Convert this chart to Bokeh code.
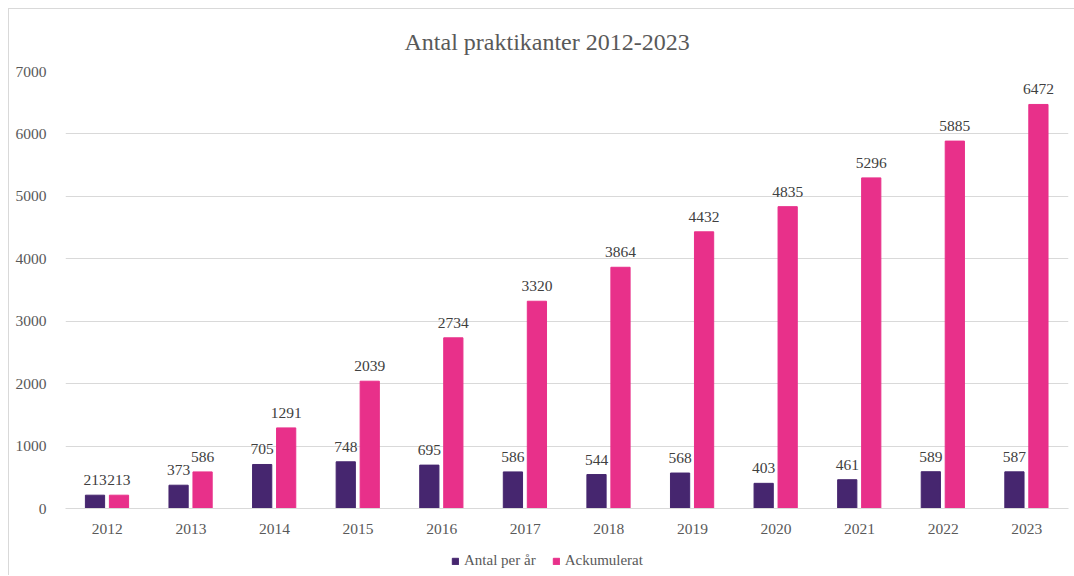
from bokeh.plotting import figure
from bokeh.layouts import column
from bokeh.models import (ColumnDataSource, FactorRange, Legend, LegendItem,
                          SingleIntervalTicker, Range1d)
from bokeh.transform import dodge
from bokeh.core.properties import value
from bokeh.embed import file_html
from bokeh.resources import INLINE

years = ["2012", "2013", "2014", "2015", "2016", "2017", "2018", "2019", "2020", "2021", "2022", "2023"]
per_year = [213, 373, 705, 748, 695, 586, 544, 568, 403, 461, 589, 587]
cumulative = [213, 586, 1291, 2039, 2734, 3320, 3864, 4432, 4835, 5296, 5885, 6472]
series_names = ["Antal per år", "Ackumulerat"]

src = ColumnDataSource(dict(
    years=years, per_year=per_year, cumulative=cumulative,
    per_lbl=[str(v) for v in per_year], cum_lbl=[str(v) for v in cumulative],
))

FONT = "Liberation Serif"
PURPLE = "#46266f"
PINK = "#e8308a"
TXT = "#595959"

p = figure(x_range=FactorRange(*years), y_range=(0, 7000), width=1065, height=534,
           output_backend="svg", toolbar_location=None,
           min_border_left=56, min_border_right=6, min_border_top=62, min_border_bottom=35)
p.title.text = "Antal praktikanter 2012-2023"
p.title.align = "left"
p.title.vertical_align = "top"
p.title.text_font = FONT
p.title.text_font_size = "24px"
p.title.text_font_style = "normal"
p.title.text_color = TXT
p.title.offset = 339
p.title.standoff = 30
p.outline_line_color = None

r1 = p.vbar(x=dodge("years", -0.147, range=p.x_range), top="per_year", width=0.23,
            source=src, color=PURPLE)
r2 = p.vbar(x=dodge("years", 0.14, range=p.x_range), top="cumulative", width=0.23,
            source=src, color=PINK)

p.text(x=dodge("years", -0.147, range=p.x_range), y="per_year", text="per_lbl", source=src,
       text_align="center", text_baseline="bottom", y_offset=-10,
       text_font=value(FONT), text_font_size="15.5px", text_color="#404040")
p.text(x=dodge("years", 0.14, range=p.x_range), y="cumulative", text="cum_lbl", source=src,
       text_align="center", text_baseline="bottom", y_offset=-10,
       text_font=value(FONT), text_font_size="15.5px", text_color="#404040")

p.yaxis.ticker = SingleIntervalTicker(interval=1000)
p.yaxis.axis_line_color = None
p.yaxis.major_tick_line_color = None
p.yaxis.minor_tick_line_color = None
p.yaxis.major_label_text_font = FONT
p.yaxis.major_label_text_font_size = "15.5px"
p.yaxis.major_label_text_color = TXT
p.yaxis.major_label_standoff = 13

p.xaxis.axis_line_color = "#d9d9d9"
p.xaxis.major_tick_line_color = None
p.xaxis.minor_tick_line_color = None
p.xaxis.major_label_text_font = FONT
p.xaxis.major_label_text_font_size = "15.5px"
p.xaxis.major_label_text_color = TXT
p.xaxis.major_label_standoff = 9

p.xgrid.grid_line_color = None
p.ygrid.grid_line_color = "#d9d9d9"

# legend strip below the chart (zero-size proxy glyphs, only used for the legend swatches)
p2 = figure(width=1065, height=32, output_backend="svg", toolbar_location=None,
            x_range=Range1d(0, 1), y_range=Range1d(0, 1), min_border=0)
p2.axis.visible = False
p2.grid.grid_line_color = None
p2.outline_line_color = None
proxy = ColumnDataSource(dict(x=[0.5], top=[0]))
l1 = p2.vbar(x="x", top="top", width=0, source=proxy, color=PURPLE)
l2 = p2.vbar(x="x", top="top", width=0, source=proxy, color=PINK)
legend = Legend(items=[LegendItem(label=series_names[0], renderers=[l1]),
                       LegendItem(label=series_names[1], renderers=[l2])],
                orientation="horizontal", location=(386, 6),
                label_text_font=FONT, label_text_font_size="15px", label_text_color=TXT,
                glyph_width=8, glyph_height=8, spacing=16, label_standoff=5,
                border_line_color=None, background_fill_alpha=0, margin=0, padding=2)
p2.add_layout(legend)

layout = column(p, p2, spacing=0,
                styles={"margin-left": "8px", "margin-top": "8px",
                        "border-left": "1px solid #d9d9d9", "border-top": "1px solid #d9d9d9"})

open("out.html", "w").write(file_html(layout, INLINE))
